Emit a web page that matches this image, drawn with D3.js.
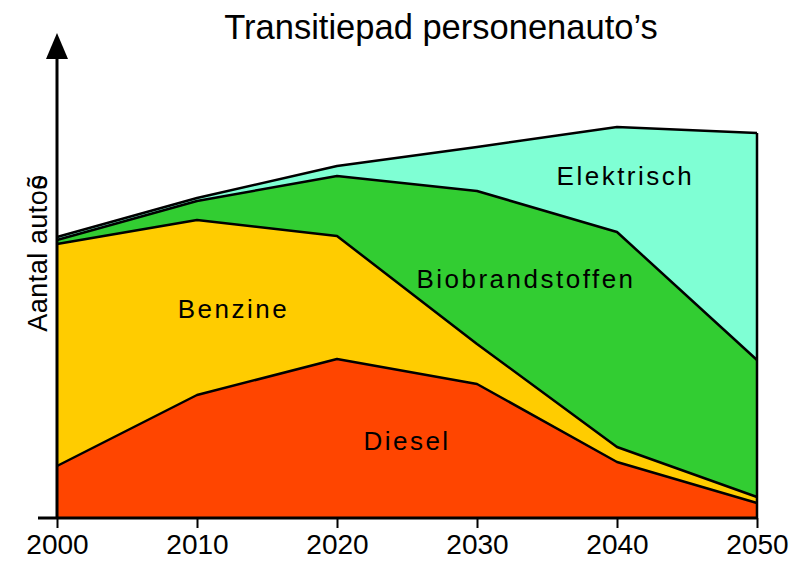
<!DOCTYPE html>
<html>
<head>
<meta charset="utf-8">
<script src="https://cdnjs.cloudflare.com/ajax/libs/d3/7.8.5/d3.min.js"></script>
<style>
  body { margin: 0; background: #fff; }
  text { font-family: "Liberation Sans", Arial, sans-serif; fill: #000; }
</style>
</head>
<body>
<div id="chart"></div>
<script>
// data (arbitrary units, no y ticks)
var years = [2000, 2010, 2020, 2030, 2040, 2050];
var diesel = [13, 30.75, 39.75, 33.5, 14, 3.75];
var benzine = [55.5, 43.75, 30.75, 10, 3.75, 1.5];
var biobrandstoffen = [1, 4.75, 15, 38.25, 53.75, 34.25];
var elektrisch = [0.75, 0.75, 2.5, 11, 26.25, 56.75];

var seriesNames = ["Diesel", "Benzine", "Biobrandstoffen", "Elektrisch"];
var seriesColours = ["#ff4500", "#ffcc00", "#32cd32", "#7fffd4"];
var labelPos = [[2025, 17], [2012.6, 50], [2033.5, 57.5], [2040.6, 83.3]];

var width = 798, height = 561;

var rows = years.map(function(y, i) {
    return { year: y, Diesel: diesel[i], Benzine: benzine[i],
             Biobrandstoffen: biobrandstoffen[i], Elektrisch: elektrisch[i] };
});

var svg = d3.select("#chart").append("svg")
    .attr("width", width)
    .attr("height", height);

var x = d3.scaleLinear().domain([2000, 2050]).range([57, 757]);
var y = d3.scaleLinear().domain([0, 100]).range([518, 118]);

var stack = d3.stack().keys(seriesNames);
var layers = stack(rows);

var area = d3.area()
    .x(function(d) { return x(d.data.year); })
    .y0(function(d) { return y(d[0]); })
    .y1(function(d) { return y(d[1]); });

var topLine = d3.line()
    .x(function(d) { return x(d.data.year); })
    .y(function(d) { return y(d[1]); });

svg.append("g").selectAll("path")
    .data(layers)
    .enter().append("path")
    .attr("fill", function(d, i) { return seriesColours[i]; })
    .attr("d", area);

svg.append("g").selectAll("path")
    .data(layers)
    .enter().append("path")
    .attr("fill", "none")
    .attr("stroke", "#000")
    .attr("stroke-width", 2.5)
    .attr("stroke-linejoin", "round")
    .attr("d", topLine);

// right edge
var last = layers[layers.length - 1][years.length - 1];
svg.append("line")
    .attr("x1", x(2050)).attr("x2", x(2050))
    .attr("y1", y(last[1])).attr("y2", y(0))
    .attr("stroke", "#000").attr("stroke-width", 2.5);

// series labels
svg.append("g").selectAll("text")
    .data(seriesNames)
    .enter().append("text")
    .attr("x", function(d, i) { return x(labelPos[i][0]); })
    .attr("y", function(d, i) { return y(labelPos[i][1]); })
    .attr("text-anchor", "middle")
    .attr("font-size", "26px")
    .attr("letter-spacing", "2.5px")
    .text(function(d) { return d; });

// x axis
var xAxis = d3.axisBottom(x)
    .tickValues(years)
    .tickFormat(d3.format("d"))
    .tickSize(10)
    .tickSizeOuter(0)
    .tickPadding(6);

var xAxisGroup = svg.append("g")
    .attr("class", "x-axis")
    .attr("transform", "translate(0," + y(0) + ")")
    .call(xAxis);
xAxisGroup.select(".domain").remove();
xAxisGroup.selectAll(".tick line").attr("stroke", "#000").attr("stroke-width", 2);
xAxisGroup.selectAll(".tick text")
    .attr("font-size", "28px")
    .attr("font-family", "Liberation Sans, Arial, sans-serif")
    .attr("fill", "#000");

svg.append("line")
    .attr("x1", x(2000) - 19).attr("x2", x(2050))
    .attr("y1", y(0)).attr("y2", y(0))
    .attr("stroke", "#000").attr("stroke-width", 3);

// y axis with arrow
svg.append("line")
    .attr("x1", x(2000)).attr("x2", x(2000))
    .attr("y1", y(0) + 1).attr("y2", 55)
    .attr("stroke", "#000").attr("stroke-width", 3);

svg.append("path")
    .attr("d", "M" + x(2000) + ",33 L" + (x(2000) + 11) + ",59 L" + (x(2000) - 11) + ",59 Z")
    .attr("fill", "#000");

var yLabel = svg.append("text")
    .attr("transform", "translate(47,253) rotate(-90)")
    .attr("text-anchor", "middle")
    .attr("font-size", "27px")
    .attr("letter-spacing", "0.5px");
yLabel.append("tspan").text("Aantal autoõ");
yLabel.append("tspan").attr("dx", -15).text("s");

// title
svg.append("text")
    .attr("x", 441)
    .attr("y", 39)
    .attr("text-anchor", "middle")
    .attr("font-size", "34.5px")
    .text("Transitiepad personenauto’s");
</script>
</body>
</html>
